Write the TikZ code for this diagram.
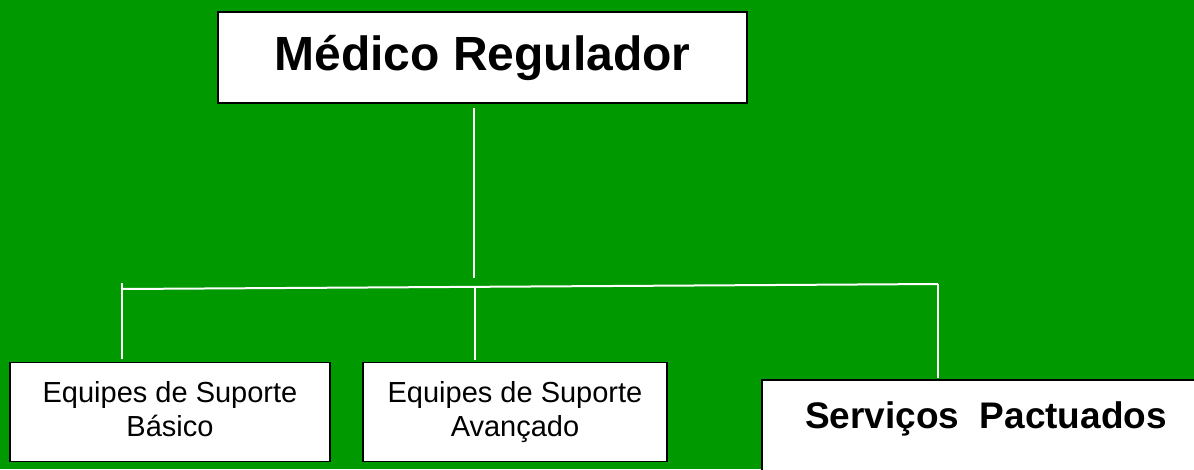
\documentclass[tikz,border=0pt]{standalone}
\usepackage{fontspec}
\setmainfont{Liberation Sans}
\definecolor{fundo}{RGB}{0,153,0}
\tikzset{
  caixa/.style={draw=black, line width=1.6pt, fill=white, inner sep=0pt, align=center},
  ligacao/.style={white, line width=2pt}
}
\begin{document}
\begin{tikzpicture}[x=1pt,y=-1pt]

% Fundo verde
  \fill[fundo] (0,0) rectangle (1194,469);
  \useasboundingbox (0,0) rectangle (1194,469);
  \clip (0,0) rectangle (1194,469);

% Caixas
  \node[caixa, minimum width=529pt, text height=58pt, text depth=33pt,
        font=\bfseries\fontsize{48}{56}\selectfont, anchor=base]
        (regulador) at (482.5,70) {Médico Regulador};
  \node[caixa, minimum width=320pt, minimum height=99pt,
        font=\fontsize{29}{34}\selectfont]
        (basico) at (170,412) {Equipes de Suporte\\Básico\vphantom{ç}};
  \node[caixa, minimum width=304pt, minimum height=99pt,
        font=\fontsize{29}{34}\selectfont]
        (avancado) at (515,412) {Equipes de Suporte\\Avançado};
  \node[caixa, minimum width=448pt, text height=48pt, text depth=70pt,
        font=\bfseries\fontsize{37}{44}\selectfont, anchor=base]
        (servicos) at (986,428) {Serviços\ \ Pactuados};

% Linhas de ligação
  \coordinate (topo) at (474,108);
  \coordinate (meio) at (474,278);
  \coordinate (esq) at (122,289);
  \coordinate (esqtopo) at (122,283);
  \coordinate (esqbase) at (122,359);
  \coordinate (centro) at (475,287);
  \coordinate (dir) at (938,284);
    \draw[ligacao] (topo) -- (meio);
    \draw[ligacao] (esq) -- (dir);
    \draw[ligacao] (esqtopo) -- (esqbase);
    \draw[ligacao, shorten >=2pt] (centro) -- (centro |- avancado.north);
    \draw[ligacao, shorten >=1pt] (dir) -- (dir |- servicos.north);

\end{tikzpicture}
\end{document}
